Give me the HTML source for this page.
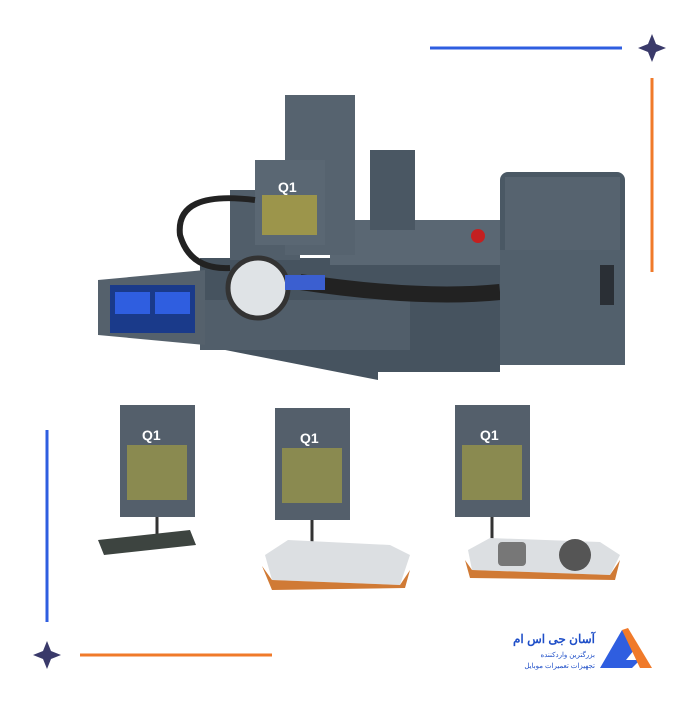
<!DOCTYPE html>
<html><head><style>
body{margin:0;background:#fff;width:700px;height:700px;overflow:hidden;font-family:"Liberation Sans",sans-serif}
</style></head><body>
<svg width="700" height="700" viewBox="0 0 700 700" xmlns="http://www.w3.org/2000/svg">
<line x1="430" y1="48" x2="622" y2="48" stroke="#2f5ee0" stroke-width="3"/>
<path d="M652 34 L656 44 L666 48 L656 52 L652 62 L648 52 L638 48 L648 44Z" fill="#3a3a6a"/>
<line x1="652" y1="78" x2="652" y2="272" stroke="#f07a2a" stroke-width="3"/>
<line x1="47" y1="430" x2="47" y2="622" stroke="#2f5ee0" stroke-width="3"/>
<path d="M47 641 L51 651 L61 655 L51 659 L47 669 L43 659 L33 655 L43 651Z" fill="#3a3a6a"/>
<line x1="80" y1="655" x2="272" y2="655" stroke="#f07a2a" stroke-width="3"/>
<path d="M600 668 L622 630 L634 650 L626 660 L640 660 L632 668Z" fill="#2f5ee0"/>
<path d="M622 630 L628 628 L652 668 L640 668Z" fill="#f07a2a"/>
<text x="595" y="643" font-family="'Liberation Sans','Noto Sans CJK SC',sans-serif" font-size="12" font-weight="bold" fill="#1f4fc8" text-anchor="end">آسان جی اس ام</text>
<text x="595" y="657" font-size="7" fill="#1f4fc8" text-anchor="end">بزرگترین واردکننده</text>
<text x="595" y="668" font-size="7" fill="#1f4fc8" text-anchor="end">تجهیزات تعمیرات موبایل</text>
<path d="M200 258 L500 258 L500 372 L378 372 L378 380 L200 345Z" fill="#46535f"/>
<rect x="230" y="190" width="70" height="70" fill="#515e6a"/>
<rect x="330" y="220" width="170" height="45" fill="#5a6773"/>
<rect x="200" y="300" width="210" height="50" fill="#515e6a"/>
<rect x="370" y="150" width="45" height="80" fill="#4a5763"/>
<rect x="285" y="95" width="70" height="160" fill="#56636f"/>
<rect x="255" y="160" width="70" height="85" fill="#5a6773"/>
<rect x="262" y="195" width="55" height="40" fill="#b8aa3a" opacity="0.7"/>
<text x="278" y="192" font-size="14" font-weight="bold" fill="#fff">Q1</text>
<path d="M300 282 Q420 300 500 292" stroke="#222" stroke-width="16" fill="none"/>
<circle cx="258" cy="288" r="30" fill="#dfe3e6" stroke="#333" stroke-width="5"/>
<rect x="285" y="275" width="40" height="15" fill="#3b5fd0"/>
<path d="M255 200 Q175 190 180 235 Q190 270 230 268" stroke="#222" stroke-width="6" fill="none"/>
<circle cx="478" cy="236" r="7" fill="#c42020"/>
<rect x="500" y="172" width="125" height="193" rx="8" fill="#4a5864"/>
<rect x="505" y="177" width="115" height="75" fill="#56636f"/>
<rect x="500" y="250" width="125" height="115" fill="#52606c"/>
<rect x="600" y="265" width="14" height="40" fill="#2a2f35"/>
<path d="M98 280 L205 270 L205 345 L98 335Z" fill="#55616c"/>
<rect x="110" y="285" width="85" height="48" fill="#1a3a8a"/>
<rect x="115" y="292" width="35" height="22" fill="#2f5ee0"/>
<rect x="155" y="292" width="35" height="22" fill="#2f5ee0"/>
<g>
<rect x="120" y="405" width="75" height="112" fill="#545f6b"/>
<rect x="127" y="445" width="60" height="55" fill="#8a8a50"/>
<text x="142" y="440" font-size="14" font-weight="bold" fill="#fff">Q1</text>
<line x1="157" y1="517" x2="157" y2="535" stroke="#333" stroke-width="3"/>
<path d="M98 540 L190 530 L196 545 L104 555Z" fill="#3d4440"/>
</g>
<g>
<rect x="275" y="408" width="75" height="112" fill="#545f6b"/>
<rect x="282" y="448" width="60" height="55" fill="#8a8a50"/>
<text x="300" y="443" font-size="14" font-weight="bold" fill="#fff">Q1</text>
<line x1="312" y1="520" x2="312" y2="545" stroke="#333" stroke-width="3"/>
<path d="M265 555 L288 540 L390 545 L410 555 L400 585 L272 580Z" fill="#dcdfe2"/>
<path d="M262 566 L272 580 L400 585 L410 570 L405 588 L272 590Z" fill="#d07a35"/>
</g>
<g>
<rect x="455" y="405" width="75" height="112" fill="#545f6b"/>
<rect x="462" y="445" width="60" height="55" fill="#8a8a50"/>
<text x="480" y="440" font-size="14" font-weight="bold" fill="#fff">Q1</text>
<line x1="492" y1="517" x2="492" y2="540" stroke="#333" stroke-width="3"/>
<path d="M468 550 L490 538 L600 542 L620 555 L610 575 L472 570Z" fill="#dcdfe2"/>
<path d="M465 560 L472 570 L610 575 L620 560 L615 580 L470 578Z" fill="#d07a35"/>
<circle cx="575" cy="555" r="16" fill="#555"/>
<rect x="498" y="542" width="28" height="24" rx="4" fill="#777"/>
</g>
</svg>
</body></html>
